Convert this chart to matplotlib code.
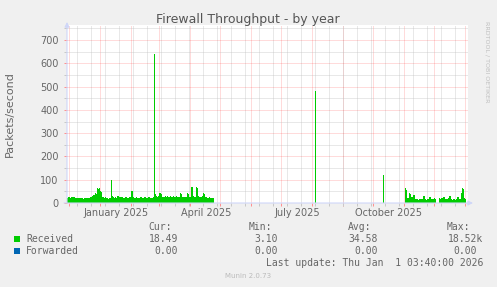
import datetime as dt
import numpy as np
import matplotlib
matplotlib.use("Agg")
import matplotlib.pyplot as plt

# ---------------- data ----------------
# days relative to 2025-01-01, daily values (packets/second)
recv_a_start = -34
recv_a = [24, 23, 25, 24, 22, 24, 27, 26,
          25, 21, 20, 21, 20, 20, 21, 20,
          20, 19, 20, 21, 20, 22, 20, 21,
          27, 26, 28, 34, 33, 41, 40, 63,
          62, 64, 50, 48, 24, 25, 23, 24,
          22, 20, 19, 20, 21, 99, 30, 24,
          23, 24, 22, 30, 29, 26, 24, 25,
          24, 22, 23, 25, 24, 23, 22, 24,
          25, 53, 50, 24, 23, 22, 24, 23,
          21, 22, 25, 24, 22, 23, 26, 24,
          22, 23, 25, 24, 22, 21, 23, 24,
          640, 40, 28, 27, 30, 41, 42, 38,
          26, 25, 27, 28, 26, 30, 25, 27,
          28, 24, 26, 30, 27, 25, 28, 26,
          24, 27, 41, 40, 26, 24, 25, 27,
          24, 41, 40, 26, 25, 70, 68, 30,
          27, 26, 67, 65, 28, 26, 27, 25,
          28, 41, 40, 26, 24, 22, 23, 24,
          21, 23, 22, 20]
spike_days = [215, 283]
spike_vals = [480, 120]
recv_b_start = 305
recv_b = [63, 55, 20, 22, 44, 40, 27, 26,
          34, 33, 16, 17, 16, 15, 17, 16,
          16, 17, 30, 28, 16, 15, 16, 17,
          27, 26, 19, 18, 19, 20, 19, 18,
          np.nan, np.nan,
          20, 19, 21, 20, 27, 26, 19, 18,
          19, 20, 30, 29, 16, 15, 16, 17,
          15, 16, 27, 26, 16, 17, 45, 63,
          60, 20, 18]

y_ticks = [0, 100, 200, 300, 400, 500, 600, 700]
month_labels = ["January 2025", "April 2025", "July 2025", "October 2025"]
label_months = [(2025, 1), (2025, 4), (2025, 7), (2025, 10)]

series_names = ["Received", "Forwarded"]
stat_headers = ["Cur:", "Min:", "Avg:", "Max:"]
stats = [["18.49", "3.10", "34.58", "18.52k"],
         ["0.00", "0.00", "0.00", "0.00"]]
last_update = "Last update: Thu Jan  1 03:40:00 2026"

title = "Firewall Throughput - by year"
ylabel = "Packets/second"

# ---------------- style ----------------
W, H = 497, 287
BG = "#F0F0F0"
FONT_C = "#666666"
AXIS_C = "#CFD6F8"
GREEN = "#00CC00"
BLUE = "#0066B3"

plt.rcParams["lines.scale_dashes"] = False
fig = plt.figure(figsize=(W / 100, H / 100), dpi=100, facecolor=BG)

def fx(px):
    return px / W

def fy(py):
    return 1 - py / H

ax_l, ax_r, ax_t, ax_b = 67, 468, 25, 203
ax = fig.add_axes([fx(ax_l), fy(ax_b), fx(ax_r - ax_l), (ax_b - ax_t) / H])
ax.set_facecolor("white")
px_per_unit = 163 / 700.0
ax.set_ylim(0, (ax_b - ax_t) / px_per_unit)
jan1 = 100.3
ax.set_xlim(ax_l - jan1, ax_r - jan1)

# data
da = np.arange(recv_a_start, recv_a_start + len(recv_a) + 1)
va = np.array(recv_a + [recv_a[-1]], dtype=float)
ax.fill_between(da, va, step="post", color=GREEN, lw=0, zorder=3)
db = np.arange(recv_b_start, recv_b_start + len(recv_b) + 1)
vb = np.ma.masked_invalid(np.array(list(recv_b) + [recv_b[-1]], dtype=float))
ax.fill_between(db, vb, step="post", color=GREEN, lw=0, zorder=3)
for sd, sv in zip(spike_days, spike_vals):
    ax.fill_between([sd - 0.3, sd + 0.7], [sv, sv], color=GREEN, lw=0, zorder=3)

# grid / ticks
def dnum(y, m, d=1):
    return (dt.date(y, m, d) - dt.date(2025, 1, 1)).days

month_ticks = [dnum(2024, 12)] + [dnum(2025, m) for m in range(1, 13)] + [dnum(2026, 1)]
minor_x = np.arange(4.3 - 28, 366, 14)
ax.set_xticks(month_ticks)
ax.set_xticks(minor_x, minor=True)
ax.set_yticks(y_ticks)
ax.set_yticks(np.arange(50, 800, 100), minor=True)
ax.set_xticklabels([])

dots = (0, (0.72, 0.72))
ax.grid(True, which="major", color="#FF0000", alpha=0.28, lw=0.72, ls=dots, zorder=1)
ax.grid(True, which="minor", color="#BBBBBB", alpha=0.65, lw=0.72, ls=dots, zorder=1)
ax.set_axisbelow(True)

ax.tick_params(axis="both", which="major", color="#FF9090", length=2, width=0.72,
               labelsize=7, labelcolor=FONT_C)
ax.tick_params(axis="both", which="minor", color="#C8C8C8", length=2, width=0.72)
ax.tick_params(axis="y", which="major", pad=4)
for s in ax.spines.values():
    s.set_visible(False)

# axes lines with arrows
ax.annotate("", xy=(0, 1.0 + 3 / 178), xytext=(0, 0), xycoords="axes fraction",
            arrowprops=dict(arrowstyle="-|>", color=AXIS_C, lw=0.8, mutation_scale=7,
                            shrinkA=0, shrinkB=0), annotation_clip=False, zorder=5)
ax.annotate("", xy=(1 + 5 / 401, 0), xytext=(-3 / 401, 0), xycoords="axes fraction",
            arrowprops=dict(arrowstyle="-|>", color=AXIS_C, lw=0.8, mutation_scale=7,
                            shrinkA=0, shrinkB=0), annotation_clip=False, zorder=5)

# x labels (centred mid-month)
for lab, (yy, mm) in zip(month_labels, label_months):
    ax.text(dnum(yy, mm) + 15.5, -10.0 / px_per_unit, lab, ha="center", va="center",
            fontsize=7, color=FONT_C, clip_on=False)

# title, y label, watermark
fig.text(fx(248), fy(19), title, ha="center", va="center", fontsize=9, color="#555555")
fig.text(fx(10), fy(114), ylabel, ha="center", va="center", rotation=90,
         fontsize=8, color=FONT_C)
fig.text(fx(487), fy(62), "RRDTOOL / TOBI OETIKER", ha="center", va="center",
         rotation=270, fontsize=4.6, color="#C0C0C0")

# legend
mono = "DejaVu Sans Mono"
hdr_right = [172, 272, 371, 470]
for h, xr in zip(stat_headers, hdr_right):
    fig.text(fx(xr), fy(227.3), h, ha="right", va="center", fontsize=7,
             family=mono, color=FONT_C)
row_y = [239.3, 251.3]
val_right = [[178, 278, 378, 483], [178, 278, 378, 477]]
for name, col, ry, vals, vr in zip(series_names, [GREEN, BLUE], row_y, stats, val_right):
    fig.patches.append(plt.Rectangle((fx(14), fy(ry + 3)), fx(6), 6 / H,
                                     transform=fig.transFigure, color=col, lw=0))
    fig.text(fx(26.3), fy(ry), name, ha="left", va="center", fontsize=7,
             family=mono, color=FONT_C)
    for v, xr in zip(vals, vr):
        fig.text(fx(xr), fy(ry), v, ha="right", va="center", fontsize=7,
                 family=mono, color=FONT_C)
fig.text(fx(483), fy(263.3), last_update, ha="right", va="center", fontsize=7,
         family=mono, color=FONT_C)
fig.text(fx(248), fy(276), "Munin 2.0.73", ha="center", va="center", fontsize=5,
         color="#BBBBBB")

fig.savefig("out.png", dpi=100, facecolor=BG)
